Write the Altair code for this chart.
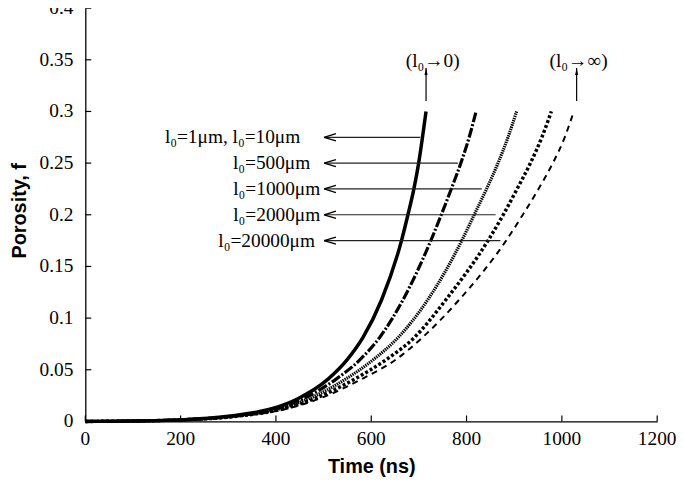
import altair as alt
import pandas as pd

# ---- data ----
F_LEVELS = [0, 0.0004, 0.0015, 0.005, 0.0125, 0.022, 0.0412, 0.06, 0.0815,
            0.118, 0.175, 0.2, 0.225, 0.25, 0.275, 0.3]
T_SOLID = [0, 100, 200, 300, 393, 446, 510, 550, 583, 622, 663.5, 677, 689.5, 699.5, 707.5, 715]
T_DASHDOT = [0, 100, 200, 305, 401, 457, 527, 577, 618, 667, 725, 747, 768, 788, 805.5, 820]
T_FINEDOT = [0, 100, 200, 312, 410, 469, 547, 605, 657, 719, 790, 816, 842, 866, 887, 905]
T_COARSEDOT = [0, 100, 200, 318, 418, 481, 566, 632, 691, 757, 845, 877, 906, 934, 958, 978]
T_DASHED = [0, 100, 200, 322, 425, 491, 581, 652, 708, 785, 883, 918, 951, 981, 1006, 1025]

X_TICKS = [0, 200, 400, 600, 800, 1000, 1200]
Y_TICKS = [0, 0.05, 0.1, 0.15, 0.2, 0.25, 0.3, 0.35, 0.4]

ARROW_F = [0.275, 0.25, 0.225, 0.2, 0.175]
ARROW_TIP_T = [501, 501, 501, 501, 501]
ARROW_END_T = [703, 782, 832, 861, 871]
ARROW_LABELS = ["l₀=1μm, l₀=10μm", "l₀=500μm", "l₀=1000μm", "l₀=2000μm", "l₀=20000μm"]
ARROW_LABEL_T = [451, 472, 493, 493, 482]

LIMIT_ARROW_T = [715, 1031]
LIMIT_ARROW_F0 = [0.31, 0.31]
LIMIT_ARROW_F1 = [0.342, 0.342]
LIMIT_LABELS = ["(l₀→0)", "(l₀→∞)"]
LIMIT_LABEL_T = [729, 1035]
LIMIT_LABEL_F = [0.349, 0.349]

W, H = 577, 417
SERIF = "Liberation Serif"
SANS = "Liberation Sans"

xscale = alt.Scale(domain=[0, 1200], nice=False)
yscale = alt.Scale(domain=[0, 0.4], nice=False)
xaxis = alt.Axis(values=X_TICKS, grid=False, ticks=False, tickSize=0, labels=False,
                 titleY=46, titleBaseline="middle", titleFont=SANS)
yaxis = alt.Axis(values=Y_TICKS, grid=False, ticks=False, tickSize=0, labels=False,
                 titleAngle=270, titleX=-66, titleY=204,
                 titleAlign="center", titleBaseline="middle", titleFont=SANS)


def X(field="t"):
    return alt.X(f"{field}:Q", scale=xscale, axis=xaxis, title="Time (ns)")


def Y(field="f"):
    return alt.Y(f"{field}:Q", scale=yscale, axis=yaxis, title="Porosity, f")


def curve(ts, **style):
    df = pd.DataFrame({"t": ts, "f": F_LEVELS})
    return alt.Chart(df).mark_line(interpolate="monotone", color="black", **style).encode(
        x=X(), y=Y())


layers = [
    curve(T_DASHED, strokeWidth=2, strokeDash=[6, 5]),
    curve(T_COARSEDOT, strokeWidth=3.5, strokeDash=[3, 2.2]),
    curve(T_FINEDOT, strokeWidth=3.2, strokeDash=[1.4, 0.9]),
    curve(T_DASHDOT, strokeWidth=3.2, strokeDash=[10, 2, 2, 2]),
    curve(T_SOLID, strokeWidth=3.5),
]

# inside ticks and tick labels
xt = pd.DataFrame({"t": X_TICKS, "label": [f"{v:d}" for v in X_TICKS]})
yt = pd.DataFrame({"f": Y_TICKS, "label": [f"{v:g}" for v in Y_TICKS]})
layers.append(alt.Chart(xt).mark_rule(color="black", strokeWidth=1.2).encode(
    x=X(), y=alt.value(H), y2=alt.value(H - 6)))
layers.append(alt.Chart(yt).mark_rule(color="black", strokeWidth=1.2).encode(
    y=Y(), x=alt.value(0), x2=alt.value(6)))
layers.append(alt.Chart(xt).mark_text(font=SERIF, fontSize=19.5, align="center",
                                      baseline="middle", color="black").encode(
    x=X(), y=alt.value(H + 18), text="label:N"))
layers.append(alt.Chart(yt).mark_text(font=SERIF, fontSize=19.5, align="right",
                                      baseline="middle", color="black").encode(
    y=Y(), x=alt.value(-12), text="label:N"))

arr = pd.DataFrame({"t": ARROW_TIP_T, "t2": ARROW_END_T, "f": ARROW_F})
layers.append(alt.Chart(arr).mark_rule(color="#222222", strokeWidth=1.2).encode(
    x=X(), x2="t2:Q", y=Y()))
layers.append(alt.Chart(arr).mark_point(shape="M0,0L2,-0.6M0,0L2,0.6", size=144,
                                        filled=False, color="black", strokeWidth=1.3,
                                        opacity=1).encode(x=X(), y=Y()))
lab = pd.DataFrame({"t": ARROW_LABEL_T, "f": ARROW_F, "label": ARROW_LABELS})
layers.append(alt.Chart(lab).mark_text(font=SERIF, fontSize=19.5, align="right",
                                       baseline="middle", color="black").encode(
    x=X(), y=Y(), text="label:N"))

va = pd.DataFrame({"t": LIMIT_ARROW_T, "f": LIMIT_ARROW_F0, "f2": LIMIT_ARROW_F1})
layers.append(alt.Chart(va).mark_rule(color="black", strokeWidth=1.2).encode(
    x=X(), y=Y(), y2="f2:Q"))
vh = pd.DataFrame({"t": LIMIT_ARROW_T, "f": LIMIT_ARROW_F1})
layers.append(alt.Chart(vh).mark_point(shape="M0,0L-0.45,2L0.45,2Z", size=49,
                                       filled=True, color="black", opacity=1).encode(
    x=X(), y=Y()))
ll = pd.DataFrame({"t": LIMIT_LABEL_T, "f": LIMIT_LABEL_F, "label": LIMIT_LABELS})
layers.append(alt.Chart(ll).mark_text(font=SERIF, fontSize=19.5, align="center",
                                      baseline="middle", color="black").encode(
    x=X(), y=Y(), text="label:N"))

chart = alt.layer(*layers).properties(
    width=W, height=H, autosize="none",
    padding={"left": 78, "top": -2, "right": 20, "bottom": 60},
    background="white",
).configure_view(stroke=None).configure_axis(
    domainColor="black", domainWidth=1.3,
    titleFont=SANS, titleFontSize=20, titleFontWeight="bold", titleColor="black",
)

chart.save("out.html", embed_options={"renderer": "svg", "actions": False})
